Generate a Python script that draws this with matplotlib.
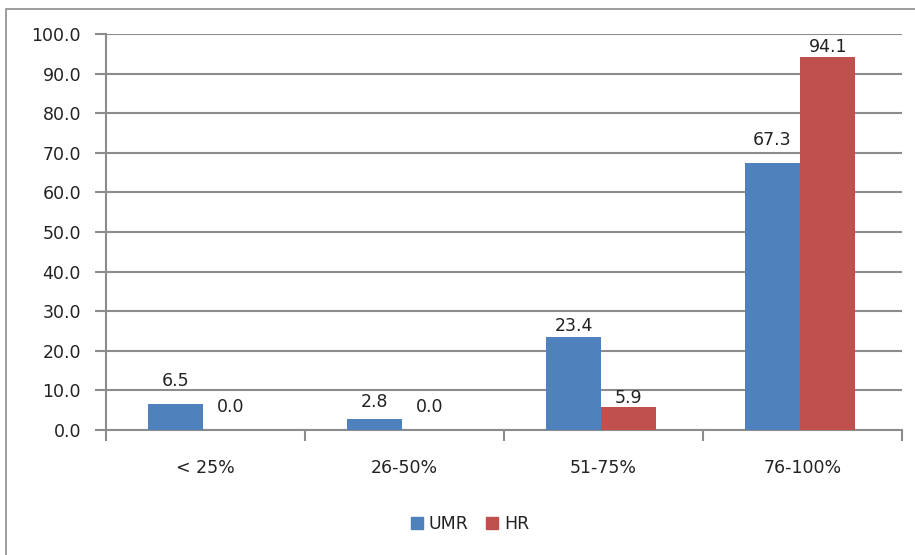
import matplotlib
matplotlib.use("Agg")
import matplotlib.pyplot as plt
from matplotlib.patches import Rectangle, Patch
from matplotlib.transforms import offset_copy
import numpy as np

categories = ["< 25%", "26-50%", "51-75%", "76-100%"]
umr = [6.5, 2.8, 23.4, 67.3]
hr = [0.0, 0.0, 5.9, 94.1]
series_names = ["UMR", "HR"]
yticks = [0, 10, 20, 30, 40, 50, 60, 70, 80, 90, 100]

# gap (px) between each bar top and its value label
umr_gap = [14, 8, 2, 14]
hr_gap = [14, 14, 0, 1]

W, H = 915, 555
fig = plt.figure(figsize=(W / 100, H / 100), dpi=100)
plt.rcParams["font.family"] = ["DejaVu Sans"]

# chart border
fig.patches.append(Rectangle((6 / W, -0.05), 1.2, 1 - 9 / H + 0.05,
                             transform=fig.transFigure, fill=False,
                             edgecolor="#8c8c8c", linewidth=1.2))

ax = fig.add_axes([106 / W, 1 - 430 / H, (902 - 106) / W, (430 - 34) / H])
grid_c = "#8c8c8c"
blue = "#4f81bd"
red = "#c0504d"
txt = "#222222"
fs = 12.5

x = np.arange(len(categories))
bw = 0.277
shift = -0.012
b1 = ax.bar(x + shift - bw / 2, umr, bw, color=blue, zorder=3)
b2 = ax.bar(x + shift + bw / 2, hr, bw, color=red, zorder=3)

for bars, vals, gaps in ((b1, umr, umr_gap), (b2, hr, hr_gap)):
    for b, v, g in zip(bars, vals, gaps):
        tr = offset_copy(ax.transData, fig=fig, y=g * 0.72, units="points")
        ax.text(b.get_x() + b.get_width() / 2, v, f"{v:.1f}", transform=tr,
                ha="center", va="bottom", fontsize=fs, color=txt)

ax.set_xlim(-0.5, len(categories) - 0.5)
ax.set_ylim(0, 100)
ax.set_yticks(yticks)
ax.set_yticklabels([f"{v:.1f}" for v in yticks], fontsize=fs, color=txt)
ax.yaxis.grid(True, color=grid_c, linewidth=1.5, zorder=0)
ax.set_axisbelow(True)

ax.set_xticks(x)
ax.set_xticklabels(categories, fontsize=fs, color=txt)
ax.tick_params(axis="x", length=0, pad=21)
ax.set_xticks(np.arange(len(categories) + 1) - 0.5, minor=True)
ax.tick_params(axis="x", which="minor", length=8, color=grid_c, width=1.5)
ax.tick_params(axis="y", length=8, color=grid_c, width=1.5, pad=10)

for s in ("top", "right"):
    ax.spines[s].set_visible(False)
ax.spines["left"].set_color(grid_c)
ax.spines["left"].set_linewidth(1.5)
ax.spines["bottom"].set_color(grid_c)
ax.spines["bottom"].set_linewidth(1.5)

handles = [Patch(color=blue), Patch(color=red)]
fig.legend(handles, series_names, loc="center", bbox_to_anchor=(470 / W, 1 - 524 / H),
           ncol=2, frameon=False, fontsize=fs, handlelength=0.7, handleheight=0.7,
           handletextpad=0.35, columnspacing=1.0, labelcolor=txt)

fig.savefig("out.png", dpi=100)
